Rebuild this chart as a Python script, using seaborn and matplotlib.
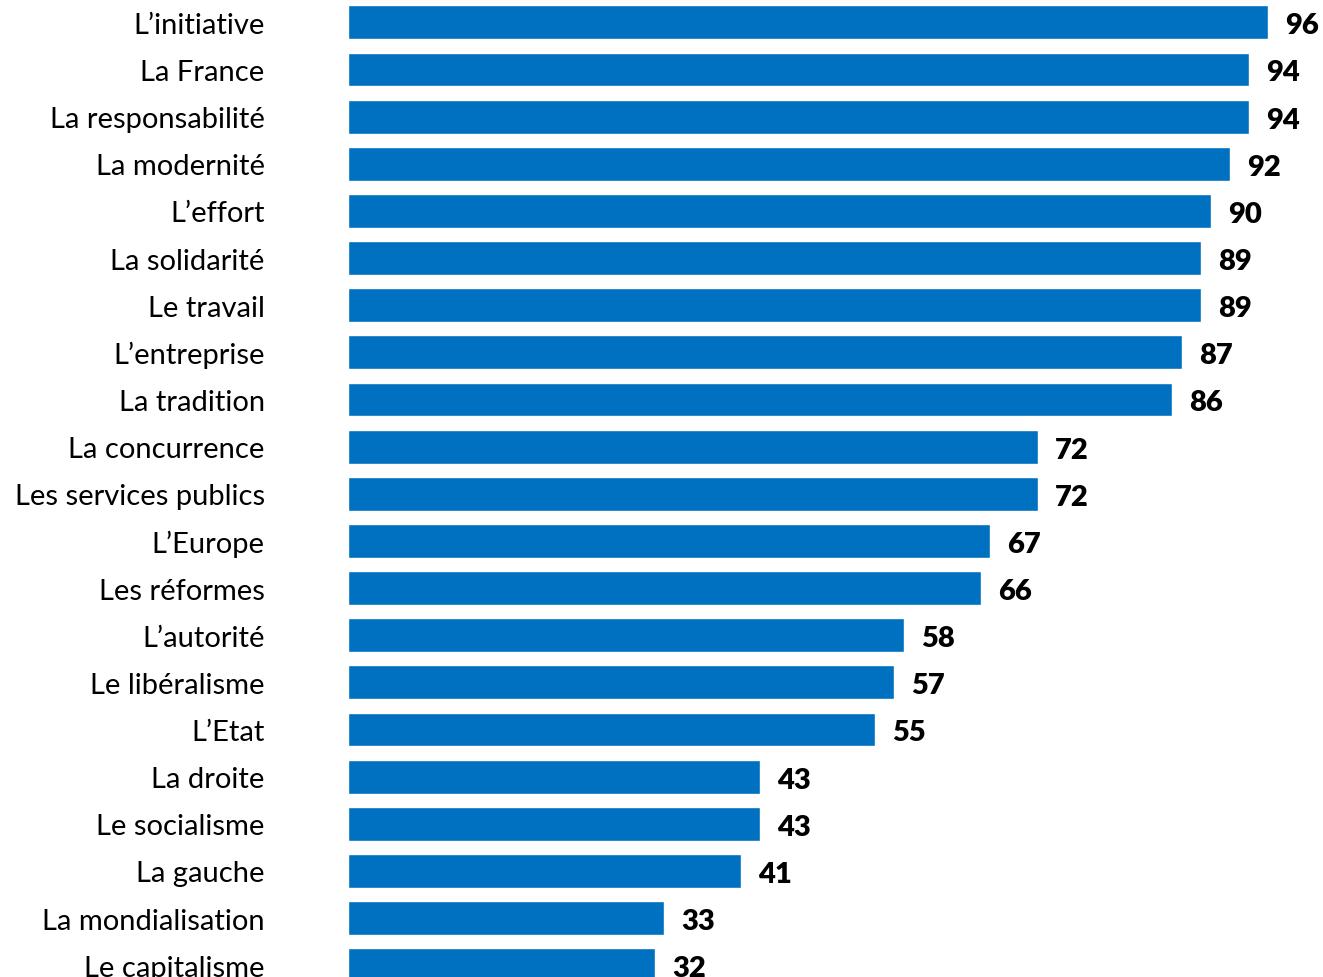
import matplotlib
matplotlib.use("Agg")
import matplotlib.pyplot as plt
import seaborn as sns
import pandas as pd

categories = [
    "L\u2019initiative", "La France", "La responsabilit\u00e9", "La modernit\u00e9",
    "L\u2019effort", "La solidarit\u00e9", "Le travail", "L\u2019entreprise",
    "La tradition", "La concurrence", "Les services publics", "L\u2019Europe",
    "Les r\u00e9formes", "L\u2019autorit\u00e9", "Le lib\u00e9ralisme", "L\u2019Etat",
    "La droite", "Le socialisme", "La gauche", "La mondialisation",
    "Le capitalisme",
]
values = [96, 94, 94, 92, 90, 89, 89, 87, 86, 72, 72, 67, 66, 58, 57, 55,
          43, 43, 41, 33, 32]

df = pd.DataFrame({"terme": categories, "score": values})

sns.set_theme(style="white")
plt.rcParams["font.family"] = ["Lato", "DejaVu Sans"]

fig = plt.figure(figsize=(13.23, 9.78), dpi=100)
ax = fig.add_axes([348 / 1323, 0.0, 1 - 348 / 1323, 1.0])

sns.barplot(data=df, x="score", y="terme", color="#0070C0", saturation=1,
            width=0.72, ax=ax, orient="h")

ax.set_xlim(0, 101.7)
ax.set_ylim(20.25, -0.495)
ax.set_xlabel("")
ax.set_ylabel("")
ax.set_xticks([])
for s in ax.spines.values():
    s.set_visible(False)
ax.tick_params(axis="y", length=0, pad=60, labelsize=21)
for lbl in ax.get_yticklabels():
    lbl.set_color("#000000")

for i, v in enumerate(values):
    ax.annotate(str(v), xy=(v, i), xytext=(17, -3), textcoords="offset pixels",
                ha="left", va="center", fontsize=21, fontweight="heavy",
                color="#000000")

fig.savefig("out.png", dpi=100)
